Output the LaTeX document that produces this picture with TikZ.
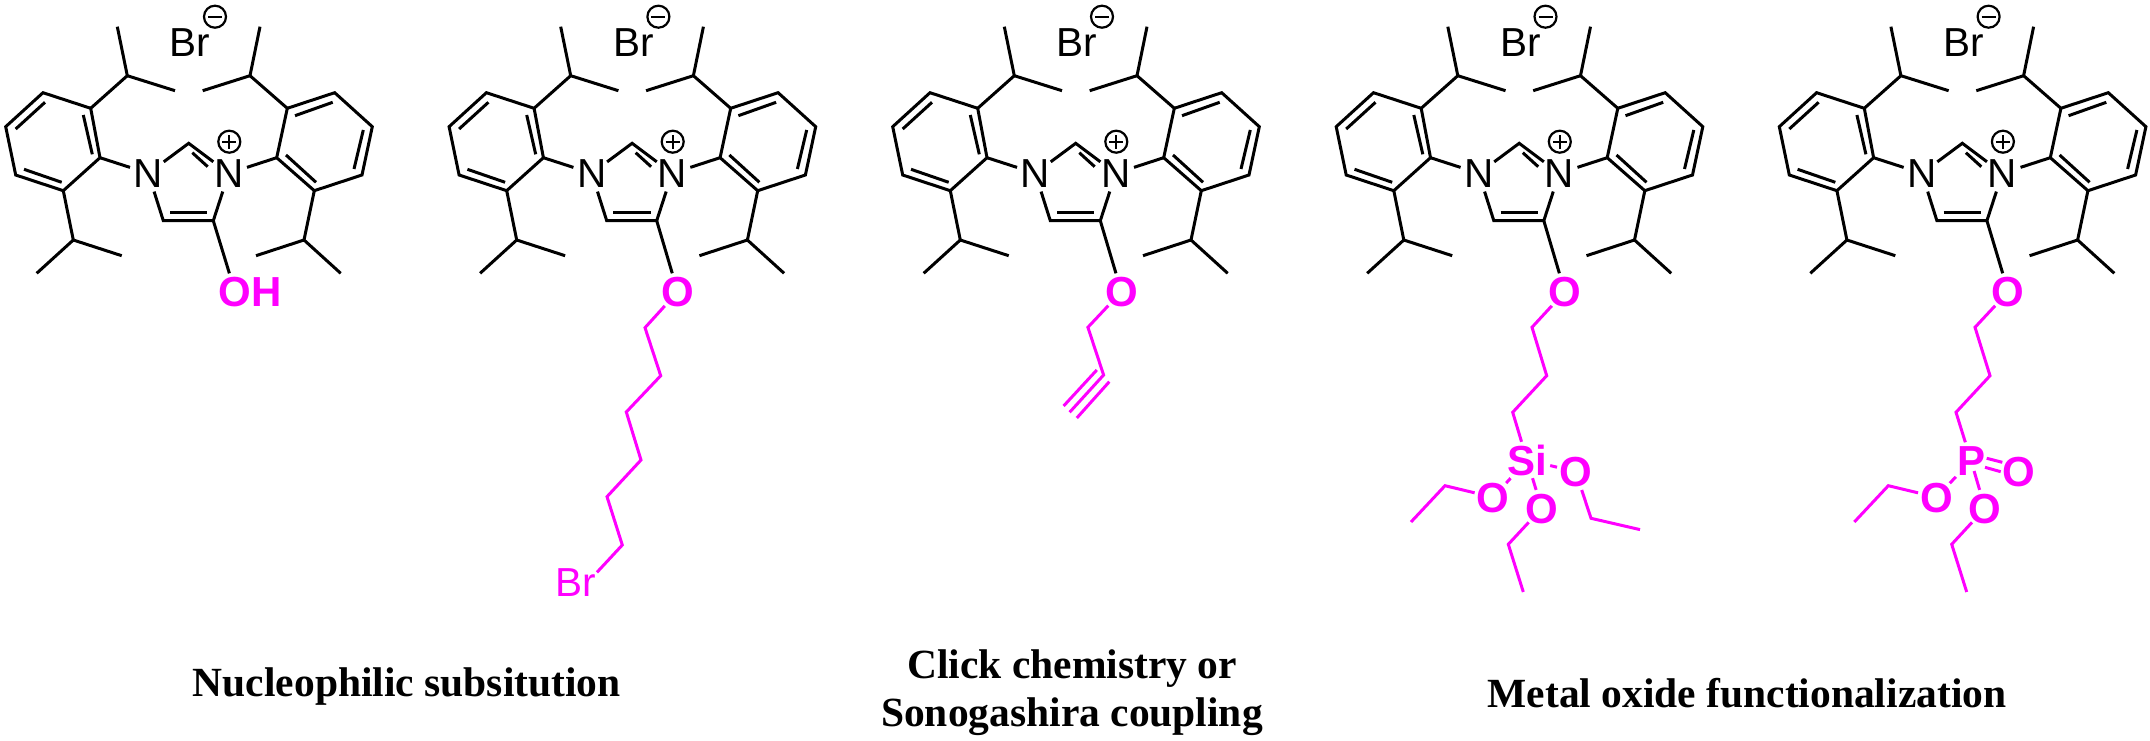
\documentclass[tikz,border=0pt]{standalone}
\usepackage{fontspec}
\setmainfont{Liberation Serif}
\setsansfont{Liberation Sans}
\definecolor{pinkm}{RGB}{255,0,255}
\newcommand\atomlbl[1]{\smash{\raisebox{-.358em}{\makebox[0pt]{#1}}}}
\newcommand\atomlbll[2]{\smash{\raisebox{-.358em}{\makebox[0pt][l]{\hspace{#1}#2}}}}
\newcommand\innerbond[3]{\draw[bond] (#1) coordinate (#3a) -- (#2) coordinate (#3b);}
\tikzset{
  x=1pt,y=-1pt,
  bond/.style={line width=3pt,line join=miter,line cap=butt,black},
  pbond/.style={bond,draw=pinkm},
  blackatom/.style={circle,inner sep=0pt,minimum size=38pt,text=black,font=\sffamily\fontsize{40.5}{48}\selectfont},
  oatom/.style={circle,inner sep=0pt,minimum size=38pt,text=pinkm,font=\sffamily\bfseries\fontsize{42}{48}\selectfont},
  siatom/.style={rectangle,inner sep=0pt,minimum width=46pt,minimum height=36pt,text=pinkm,font=\sffamily\bfseries\fontsize{42}{48}\selectfont},
  patom/.style={rectangle,inner sep=0pt,minimum width=30pt,minimum height=36pt,text=pinkm,font=\sffamily\bfseries\fontsize{42}{48}\selectfont},
  bratom/.style={circle,inner sep=0pt,minimum size=26pt,text=pinkm,font=\sffamily\fontsize{40.5}{48}\selectfont},
  anion/.style={inner sep=0pt,text=black,font=\sffamily\fontsize{40.5}{48}\selectfont},
  charge/.style={circle,draw=black,line width=2.2pt,minimum size=22pt,inner sep=0pt},
  chgminus/.style={charge,path picture={\draw[line width=2.2pt] ([xshift=-7pt]path picture bounding box.center) -- ([xshift=7pt]path picture bounding box.center);}},
  chgplus/.style={charge,path picture={\draw[line width=2.2pt] ([xshift=-7pt]path picture bounding box.center) -- ([xshift=7pt]path picture bounding box.center) ([yshift=-7pt]path picture bounding box.center) -- ([yshift=7pt]path picture bounding box.center);}},
  caption/.style={inner sep=0pt,anchor=base,font=\rmfamily\bfseries\fontsize{41.5}{48}\selectfont,align=center},
}
% the shared cation; #1 = horizontal offset, #2 = name prefix
\newcommand\core[2]{%
\begin{scope}[xshift=#1pt,name prefix=#2-]
  \node[anion] (Br) at (190,42.8) {Br};
  \node[chgminus] (neg) at (215,16.7) {};
  \node[blackatom] (N1) at (148.3,173.3) {\atomlbl{N}};
  \node[blackatom] (N3) at (228.7,173.3) {\atomlbl{N}};
  \node[chgplus] (pos) at (229.3,141.7) {};
  \coordinate (C2) at (188.7,143.3);
  \coordinate (C4) at (163.3,220.7);
  \coordinate (C5) at (213.3,220.7);
  % left ring
  \coordinate (La) at (90.7,108.3);
  \coordinate (Lb) at (43,92.7);
  \coordinate (Lc) at (5.7,126.7);
  \coordinate (Ld) at (15.7,175);
  \coordinate (Le) at (63.3,190.7);
  \coordinate (Lf) at (100,157.7);
  % right ring
  \coordinate (Ra) at (287.3,108.3);
  \coordinate (Rb) at (334.7,92.7);
  \coordinate (Rc) at (372.3,126.7);
  \coordinate (Rd) at (362,175);
  \coordinate (Re) at (314.3,190.7);
  \coordinate (Rf) at (276.7,157.7);
  % isopropyls
  \coordinate (TL) at (127.3,75.7);
  \coordinate (TLa) at (117.3,26.7);
  \coordinate (TLb) at (175,90.7);
  \coordinate (TR) at (250,75.7);
  \coordinate (TRa) at (260,26.7);
  \coordinate (TRb) at (202.7,90.7);
  \coordinate (BL) at (73.3,240);
  \coordinate (BLa) at (36.7,273.3);
  \coordinate (BLb) at (121.7,255.7);
  \coordinate (BR) at (304,240);
  \coordinate (BRa) at (340.7,273.3);
  \coordinate (BRb) at (256,255.7);
  \draw[bond] (La) -- (Lb) -- (Lc) -- (Ld) -- (Le) -- (Lf) -- cycle;
  \draw[bond] (Ra) -- (Rb) -- (Rc) -- (Rd) -- (Re) -- (Rf) -- cycle;
  \innerbond{83.3,115}{92.3,154.3}{da}
  \innerbond{45,102.3}{15.7,129}{db}
  \innerbond{24,169.3}{61.7,182.3}{dc}
  \innerbond{295,115.7}{332.7,102.3}{dd}
  \innerbond{363.3,130}{354,169}{de}
  \innerbond{286,155}{316,182.3}{df}
  \innerbond{170,212.3}{207.3,212.3}{dg}
  \innerbond{192.3,152.7}{207.7,166.7}{dh}
  \draw[bond] (N1) -- (C2) -- (N3);
  \draw[bond] (N1) -- (C4) -- (C5) -- (N3);
  \draw[bond] (Lf) -- (N1);
  \draw[bond] (Rf) -- (N3);
  \draw[bond] (TLa) -- (TL) -- (TLb);
  \draw[bond] (TL) -- (La);
  \draw[bond] (TRa) -- (TR) -- (TRb);
  \draw[bond] (TR) -- (Ra);
  \draw[bond] (BLa) -- (BL) -- (BLb);
  \draw[bond] (BL) -- (Le);
  \draw[bond] (BRa) -- (BR) -- (BRb);
  \draw[bond] (BR) -- (Re);
\end{scope}}
\begin{document}
\begin{tikzpicture}
\useasboundingbox (0,0) rectangle (2150,741);
\core{0}{a}
\core{443.4}{b}
\core{887}{c}
\core{1330.5}{d}
\core{1773.6}{e}

% molecule 1
\node[oatom] (oa) at (235,291.7) {\atomlbll{-16.5pt}{OH}};
\draw[bond] (a-C5) -- (oa);

% molecule 2
\node[oatom] (ob) at (677.7,291.7) {\atomlbl{O}};
\draw[bond] (b-C5) -- (ob);
\coordinate (b1) at (645,327.7);
\coordinate (b2) at (660.7,375.7);
\coordinate (b3) at (626.3,412);
\coordinate (b4) at (641,460);
\coordinate (b5) at (607,496.7);
\coordinate (b6) at (622.3,545);
\node[bratom] (bbr) at (588,582) {\atomlbll{-33pt}{Br}};
\draw[pbond] (ob) -- (b1) -- (b2) -- (b3) -- (b4) -- (b5) -- (b6) -- (bbr);

% molecule 3
\node[oatom] (oc) at (1121.4,291.7) {\atomlbl{O}};
\draw[bond] (c-C5) -- (oc);
\coordinate (c1) at (1087.9,327.3);
\coordinate (c2) at (1103.6,375);
\coordinate (c3) at (1069.6,412.3);
\draw[pbond] (oc) -- (c1) -- (c2) -- (c3);
\draw[pbond] (1096.8,370) coordinate (c4a) -- (1063.6,406) coordinate (c4b);
\draw[pbond] (1109.3,381.7) coordinate (c5a) -- (1076.8,418) coordinate (c5b);

% molecule 4
\node[oatom] (od) at (1564.8,291.7) {\atomlbl{O}};
\draw[bond] (d-C5) -- (od);
\coordinate (d1) at (1532,327.3);
\coordinate (d2) at (1546.7,375.7);
\coordinate (d3) at (1512.7,412.3);
\node[siatom] (si) at (1527,460) {\atomlbl{Si}};
\node[oatom] (so1) at (1575.7,471.7) {\atomlbl{O}};
\node[oatom] (so2) at (1493.3,497.3) {\atomlbl{O}};
\node[oatom] (so3) at (1541.7,508.3) {\atomlbl{O}};
\draw[pbond] (od) -- (d1) -- (d2) -- (d3) -- (si);
\draw[pbond] (si) -- (so1);
\draw[pbond] (si) -- (so2);
\draw[pbond] (si) -- (so3);
\coordinate (s1a) at (1591,518.3);
\coordinate (s1b) at (1640,529.6);
\coordinate (s2a) at (1445,485.7);
\coordinate (s2b) at (1411,522);
\coordinate (s3a) at (1508.3,544.3);
\coordinate (s3b) at (1523.3,592);
\draw[pbond] (so1) -- (s1a) -- (s1b);
\draw[pbond] (so2) -- (s2a) -- (s2b);
\draw[pbond] (so3) -- (s3a) -- (s3b);

% molecule 5
\node[oatom] (oe) at (2008.2,291.7) {\atomlbl{O}};
\draw[bond] (e-C5) -- (oe);
\coordinate (e1) at (1975,327.3);
\coordinate (e2) at (1990,375.7);
\coordinate (e3) at (1956,412.3);
\node[patom] (ph) at (1971,460.5) {\atomlbl{P}};
\node[oatom] (po1) at (2019,471.7) {\atomlbl{O}};
\node[oatom] (po2) at (1936.7,497.3) {\atomlbl{O}};
\node[oatom] (po3) at (1985,508.3) {\atomlbl{O}};
\draw[pbond] (oe) -- (e1) -- (e2) -- (e3) -- (ph);
\draw[pbond] (1986.7,458.3) coordinate (pd1a) -- (2002.3,462.3) coordinate (pd1b);
\draw[pbond] (1985,467.3) coordinate (pd2a) -- (2000.7,471.7) coordinate (pd2b);
\draw[pbond] (ph) -- (po2);
\draw[pbond,shorten <=-8pt] (ph) -- (po3);
\coordinate (p2a) at (1888.3,485.7);
\coordinate (p2b) at (1854.3,522);
\coordinate (p3a) at (1951.7,544.3);
\coordinate (p3b) at (1966.7,592);
\draw[pbond] (po2) -- (p2a) -- (p2b);
\draw[pbond] (po3) -- (p3a) -- (p3b);

% captions
\node[caption] (cap1) at (406.8,696) {Nucleophilic subsitution};
\node[caption,anchor=center] (cap2) at (1072,693) {Click chemistry or\\Sonogashira coupling};
\node[caption] (cap3) at (1747,707) {Metal oxide functionalization};
\end{tikzpicture}
\end{document}
